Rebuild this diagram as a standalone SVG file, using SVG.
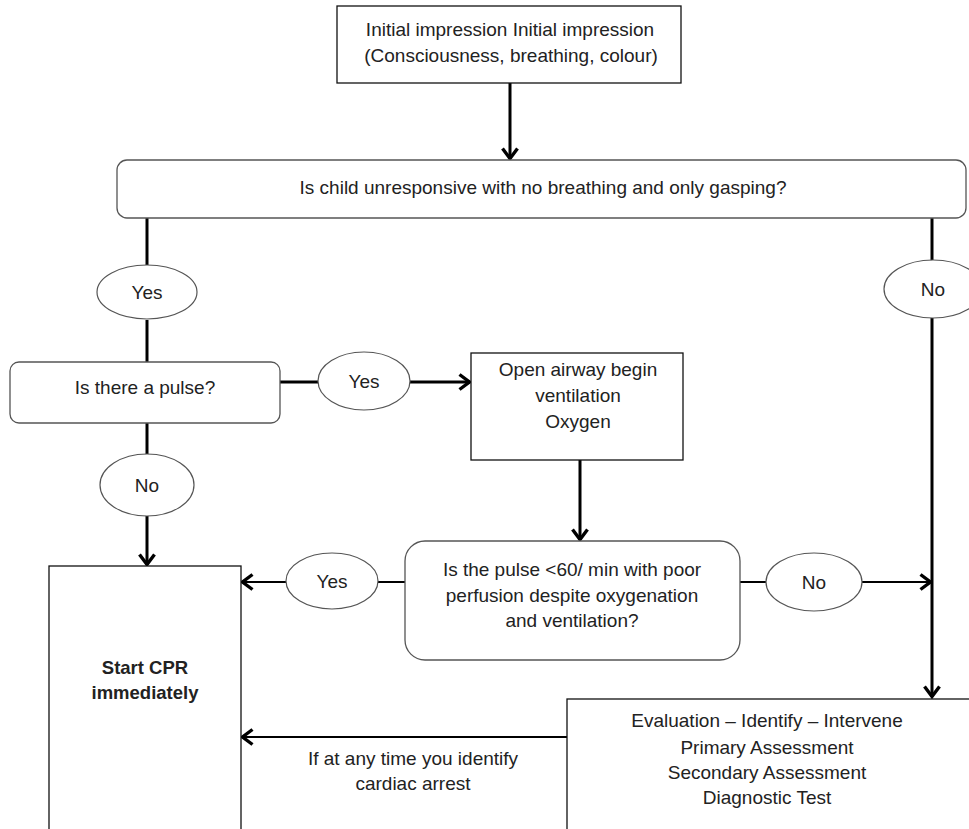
<svg xmlns="http://www.w3.org/2000/svg" width="969" height="829" viewBox="0 0 969 829">
<style>
  text { font-family: "Liberation Sans", Arial, sans-serif; font-size: 19px; fill: #222; text-anchor: middle; }
  .bold { font-weight: bold; font-size: 18.5px; }
  .box { fill: #fff; stroke: #111; stroke-width: 1.3; }
  .rbox { fill: #fff; stroke: #555; stroke-width: 1.3; }
  .ell { fill: #fff; stroke: #555; stroke-width: 1.2; }
  .con { fill: none; stroke: #000; stroke-width: 3; }
  .thin { fill: none; stroke: #000; stroke-width: 2; }
</style>
<defs>
  <marker id="ah" viewBox="0 0 14 18" refX="12.5" refY="9" markerWidth="14" markerHeight="18" markerUnits="userSpaceOnUse" orient="auto">
    <path d="M2,1.5 L12,9 L2,16.5" fill="none" stroke="#000" stroke-width="3.4"/>
  </marker>
</defs>
<rect width="969" height="829" fill="#fff"/>

<g id="connectors">
  <line class="con" x1="510" y1="83" x2="510" y2="159" marker-end="url(#ah)"/>
  <line class="con" x1="147" y1="218" x2="147" y2="265"/>
  <line class="con" x1="147" y1="320" x2="147" y2="362"/>
  <line class="con" x1="280" y1="382" x2="318" y2="382"/>
  <line class="con" x1="410" y1="382" x2="470" y2="382" marker-end="url(#ah)"/>
  <line class="con" x1="147" y1="423" x2="147" y2="455"/>
  <line class="con" x1="147" y1="515" x2="147" y2="565" marker-end="url(#ah)"/>
  <line class="con" x1="580" y1="460" x2="580" y2="540" marker-end="url(#ah)"/>
  <line class="thin" x1="405" y1="582" x2="378" y2="582"/>
  <line class="thin" x1="286" y1="582" x2="242" y2="582" marker-end="url(#ah)"/>
  <line class="thin" x1="740" y1="582" x2="766" y2="582"/>
  <line class="thin" x1="862" y1="582" x2="931" y2="582" marker-end="url(#ah)"/>
  <line class="con" x1="932" y1="218" x2="932" y2="261"/>
  <line class="con" x1="932" y1="318" x2="932" y2="697" marker-end="url(#ah)"/>
  <line class="thin" x1="567" y1="737" x2="242" y2="737" marker-end="url(#ah)"/>
</g>

<g id="initial">
  <rect class="box" x="337" y="6" width="344" height="77"/>
  <text x="510" y="36">Initial impression Initial impression</text>
  <text x="511" y="62">(Consciousness, breathing, colour)</text>
</g>

<g id="unresponsive">
  <rect class="rbox" x="117" y="160" width="849" height="58" rx="10"/>
  <text x="543" y="194">Is child unresponsive with no breathing and only gasping?</text>
</g>

<g id="yes1">
  <ellipse class="ell" cx="147" cy="292" rx="50" ry="27"/>
  <text x="147" y="299">Yes</text>
</g>

<g id="no1">
  <ellipse class="ell" cx="933" cy="289" rx="49" ry="29"/>
  <text x="933" y="296">No</text>
</g>

<g id="pulse">
  <rect class="rbox" x="10" y="362" width="270" height="61" rx="9"/>
  <text x="145" y="394">Is there a pulse?</text>
</g>

<g id="yes2">
  <ellipse class="ell" cx="364" cy="381" rx="46" ry="29"/>
  <text x="364" y="388">Yes</text>
</g>

<g id="airway">
  <rect class="box" x="471" y="353" width="212" height="107"/>
  <text x="578" y="376">Open airway begin</text>
  <text x="578" y="402">ventilation</text>
  <text x="578" y="428">Oxygen</text>
</g>

<g id="no2">
  <ellipse class="ell" cx="147" cy="485" rx="47" ry="31"/>
  <text x="147" y="492">No</text>
</g>

<g id="pulse60">
  <rect class="rbox" x="405" y="541" width="335" height="119" rx="20"/>
  <text x="572" y="576">Is the pulse &lt;60/ min with poor</text>
  <text x="572" y="602">perfusion despite oxygenation</text>
  <text x="572" y="627">and ventilation?</text>
</g>

<g id="yes3">
  <ellipse class="ell" cx="332" cy="581" rx="46" ry="28"/>
  <text x="332" y="588">Yes</text>
</g>

<g id="no3">
  <ellipse class="ell" cx="814" cy="582" rx="48" ry="29"/>
  <text x="814" y="589">No</text>
</g>

<g id="cpr">
  <rect class="box" x="49" y="566" width="192" height="280"/>
  <text class="bold" x="145" y="674">Start CPR</text>
  <text class="bold" x="145" y="699">immediately</text>
</g>

<g id="evaluation">
  <rect class="box" x="567" y="699" width="420" height="150"/>
  <text x="767" y="727">Evaluation – Identify – Intervene</text>
  <text x="767" y="754">Primary Assessment</text>
  <text x="767" y="779">Secondary Assessment</text>
  <text x="767" y="804">Diagnostic Test</text>
</g>

<g id="label-arrest">
  <text x="413" y="765">If at any time you identify</text>
  <text x="413" y="790">cardiac arrest</text>
</g>
</svg>
